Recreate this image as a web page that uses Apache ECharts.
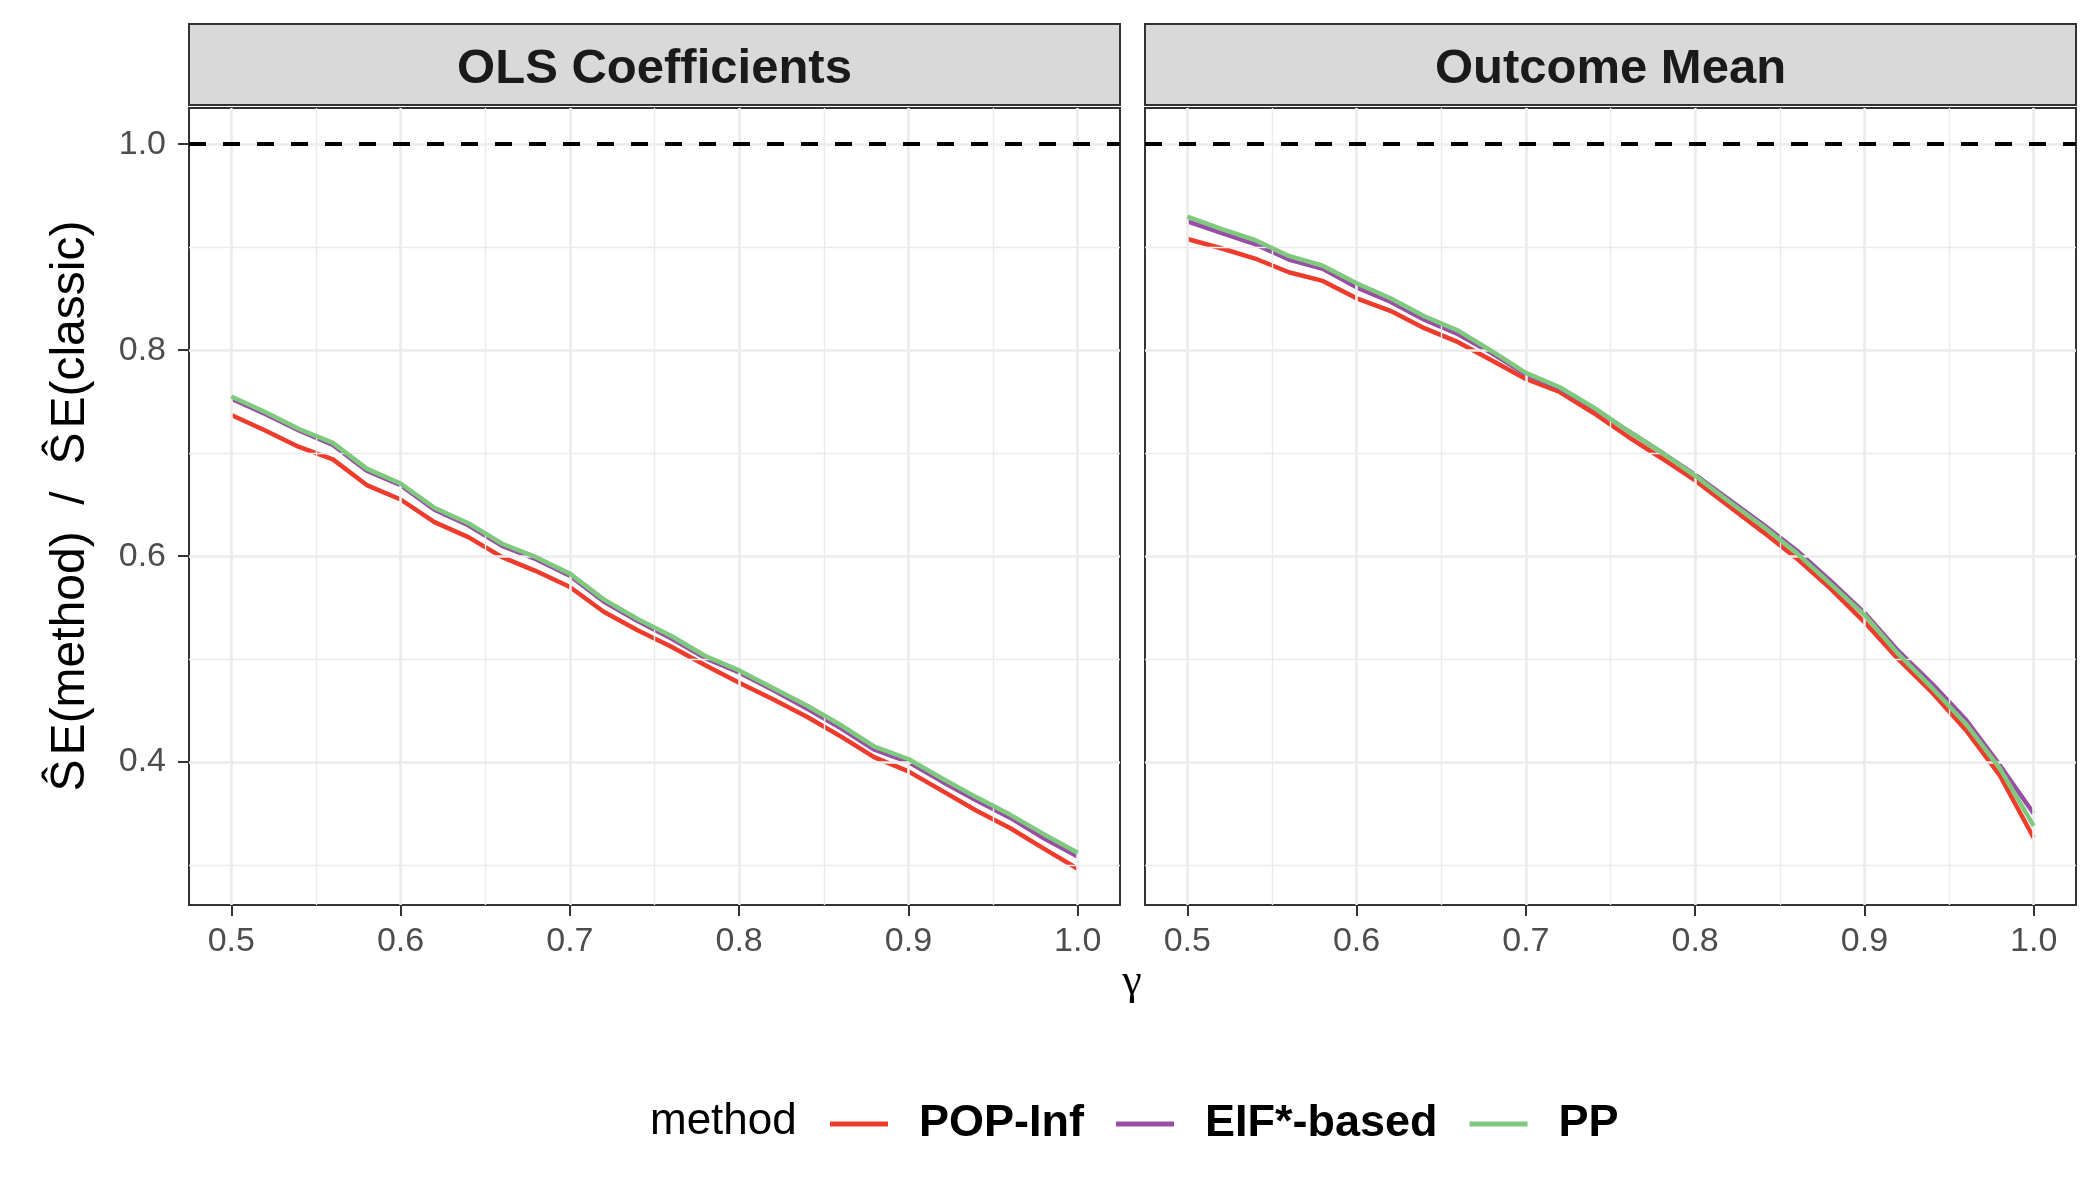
<!DOCTYPE html>
<html><head><meta charset="utf-8">
<script src="https://cdn.jsdelivr.net/npm/echarts@6/dist/echarts.min.js"></script>
<style>html,body{margin:0;padding:0;background:#fff}#c{width:2100px;height:1200px}</style>
</head><body><div id="c"></div>
<script>
const gamma = [0.50,0.52,0.54,0.56,0.58,0.60,0.62,0.64,0.66,0.68,0.70,0.72,0.74,0.76,0.78,0.80,0.82,0.84,0.86,0.88,0.90,0.92,0.94,0.96,0.98,1.00];
const panelTitles = ['OLS Coefficients', 'Outcome Mean'];
const methods = ['POP-Inf', 'EIF*-based', 'PP'];
const methodColors = ['#EE3B2B', '#984EA3', '#7FC97F'];

const olsPOP = [0.737,0.722,0.706,0.694,0.669,0.655,0.633,0.6185,0.599,0.5855,0.570,0.546,0.528,0.512,0.494,0.477,0.461,0.444,0.425,0.4046,0.391,0.372,0.353,0.336,0.316,0.2964];
const olsEIF = [0.753,0.738,0.722,0.708,0.683,0.669,0.645,0.630,0.610,0.597,0.581,0.556,0.537,0.520,0.501,0.487,0.470,0.452,0.433,0.412,0.400,0.381,0.363,0.346,0.326,0.3083];
const olsPP  = [0.755,0.740,0.7235,0.710,0.685,0.6705,0.647,0.632,0.612,0.599,0.583,0.558,0.539,0.5225,0.503,0.489,0.472,0.455,0.436,0.415,0.403,0.384,0.366,0.349,0.330,0.312];

const meanPOP = [0.908,0.899,0.889,0.8757,0.8673,0.8504,0.8382,0.8214,0.8078,0.790,0.772,0.7594,0.739,0.7164,0.6953,0.6735,0.6485,0.6236,0.5978,0.5684,0.536,0.500,0.4676,0.431,0.387,0.3265];
const meanEIF = [0.925,0.914,0.903,0.888,0.879,0.861,0.847,0.8295,0.8155,0.797,0.7765,0.763,0.744,0.722,0.701,0.679,0.655,0.631,0.6055,0.576,0.545,0.508,0.476,0.441,0.397,0.350];
const meanPP  = [0.9296,0.9177,0.907,0.8915,0.882,0.865,0.8504,0.833,0.819,0.799,0.778,0.764,0.7445,0.722,0.701,0.678,0.653,0.629,0.603,0.573,0.543,0.505,0.472,0.437,0.394,0.338];

const xTicks = [0.5, 0.6, 0.7, 0.8, 0.9, 1.0];
const xMinor = [0.55, 0.65, 0.75, 0.85, 0.95];
const yTicks = [0.4, 0.6, 0.8, 1.0];
const yMinor = [0.3, 0.5, 0.7, 0.9];
const refLine = 1.0;

const panelData = [[olsPOP, olsEIF, olsPP], [meanPOP, meanEIF, meanPP]];

// ggplot-like 5% expansion of data ranges
const allY = [].concat(olsPOP, olsEIF, olsPP, meanPOP, meanEIF, meanPP, [refLine]);
const yLo = Math.min(...allY), yHi = Math.max(...allY);
const yMin = yLo - 0.05 * (yHi - yLo), yMax = yHi + 0.05 * (yHi - yLo);
const xLo = Math.min(...gamma), xHi = Math.max(...gamma);
const xMin = xLo - 0.05 * (xHi - xLo), xMax = xHi + 0.05 * (xHi - xLo);

const grids = [
  {left: 189, top: 108, width: 931, height: 797},
  {left: 1145, top: 108, width: 931, height: 797}
];

const chart = echarts.init(document.getElementById('c'), null, {renderer: 'canvas'});
const FONT = 'Liberation Sans, Helvetica, Arial, sans-serif';

const xAxes = [], yAxes = [], series = [], gridOpts = [], graphics = [];
grids.forEach((g, p) => {
  gridOpts.push(Object.assign({show: true, borderColor: '#333333', borderWidth: 2, backgroundColor: '#fff', containLabel: false}, g));
  xAxes.push({
    type: 'value', gridIndex: p, min: xMin, max: xMax,
    axisLine: {show: false},
    splitLine: {show: false},
    axisTick: {show: true, customValues: xTicks, length: 11, lineStyle: {color: '#333333', width: 2}},
    axisLabel: {show: true, customValues: xTicks, margin: 20, color: '#4D4D4D', fontSize: 34, fontFamily: FONT,
      formatter: v => v.toFixed(1)}
  });
  yAxes.push({
    type: 'value', gridIndex: p, min: yMin, max: yMax,
    axisLine: {show: false},
    splitLine: {show: false},
    axisTick: {show: p === 0, customValues: yTicks, length: 11, lineStyle: {color: '#333333', width: 2}},
    axisLabel: {show: p === 0, customValues: yTicks, margin: 23, color: '#4D4D4D', fontSize: 34, fontFamily: FONT,
      formatter: v => v.toFixed(1)}
  });
  // gridlines
  const gl = [];
  xMinor.forEach(v => gl.push({xAxis: v, lineStyle: {color: '#EBEBEB', width: 1.4, type: 'solid'}}));
  yMinor.forEach(v => gl.push({yAxis: v, lineStyle: {color: '#EBEBEB', width: 1.4, type: 'solid'}}));
  xTicks.forEach(v => gl.push({xAxis: v, lineStyle: {color: '#EBEBEB', width: 2.6, type: 'solid'}}));
  yTicks.forEach(v => gl.push({yAxis: v, lineStyle: {color: '#EBEBEB', width: 2.6, type: 'solid'}}));
  series.push({
    name: '_grid' + p, type: 'line', xAxisIndex: p, yAxisIndex: p, data: [], z: 1, silent: true,
    markLine: {silent: true, symbol: ['none', 'none'], label: {show: false}, animation: false, data: gl}
  });
  series.push({
    name: '_ref' + p, type: 'line', xAxisIndex: p, yAxisIndex: p, data: [], z: 2, silent: true,
    markLine: {silent: true, symbol: ['none', 'none'], label: {show: false}, animation: false,
      data: [{yAxis: refLine, lineStyle: {color: '#000', width: 4, type: [17, 17]}}]}
  });
  methods.forEach((m, k) => {
    series.push({
      name: m, type: 'line', xAxisIndex: p, yAxisIndex: p, z: 3 + k,
      data: gamma.map((x, i) => [x, panelData[p][k][i]]),
      symbol: 'none', smooth: false, clip: true,
      lineStyle: {color: methodColors[k], width: 4.5},
      itemStyle: {color: methodColors[k]}
    });
  });
  // strip
  graphics.push({type: 'rect', shape: {x: g.left, y: 24, width: g.width, height: 81},
    style: {fill: '#D9D9D9', stroke: '#333333', lineWidth: 2}, z: 10});
  graphics.push({type: 'text', x: g.left + g.width / 2, y: 69, z: 11,
    style: {text: panelTitles[p], fill: '#1A1A1A', font: 'bold 49px ' + FONT, textAlign: 'center', textVerticalAlign: 'middle'}});
});

// axis titles
graphics.push({type: 'text', x: 1132, y: 982, z: 11,
  style: {text: 'γ', fill: '#000', font: '44px Liberation Serif, DejaVu Serif, serif', textAlign: 'center', textVerticalAlign: 'middle'}});
graphics.push({type: 'text', x: 71, y: 506, rotation: Math.PI / 2, z: 11,
  style: {text: 'Ŝ\u200AE(method)  /  Ŝ\u200AE(classic)', fill: '#000', font: '48px ' + FONT, textAlign: 'center', textVerticalAlign: 'middle'}});
// legend title
graphics.push({type: 'text', x: 650, y: 1122, z: 11,
  style: {text: 'method', fill: '#000', font: '44px ' + FONT, textAlign: 'left', textVerticalAlign: 'middle'}});

chart.setOption({
  animation: false,
  backgroundColor: '#ffffff',
  grid: gridOpts,
  xAxis: xAxes,
  yAxis: yAxes,
  series: series,
  legend: {
    data: methods, left: 825, top: 1094, orient: 'horizontal',
    icon: 'rect', itemWidth: 58, itemHeight: 5, itemGap: 32,
    selectedMode: false,
    textStyle: {fontSize: 45, fontWeight: 'bold', color: '#000', fontFamily: FONT, padding: [0, 0, 0, 26], lineHeight: 50}
  },
  graphic: graphics
});
</script>
</body></html>
